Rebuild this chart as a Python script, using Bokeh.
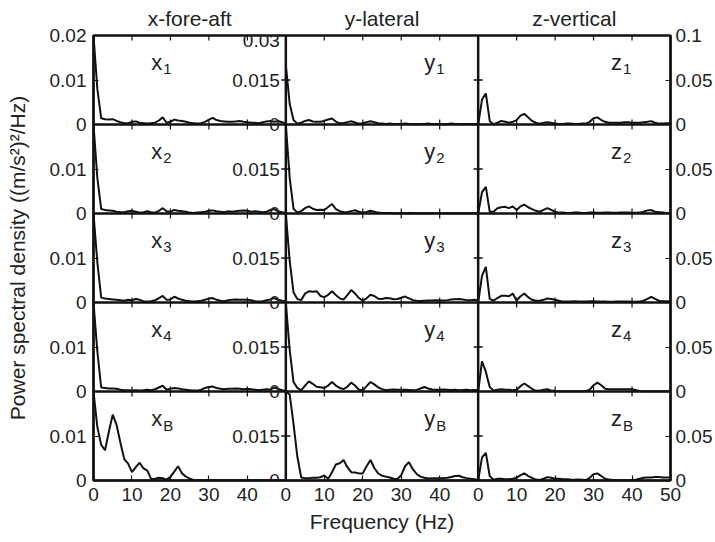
import numpy as np
from bokeh.plotting import figure
from bokeh.models import Range1d, LinearAxis, FixedTicker, Label, Span
from bokeh.embed import file_html
from bokeh.resources import INLINE

# ---------------- data ----------------
freq = list(range(0, 51))

x1 = [0.020, 0.008, 0.0014, 0.0012, 0.0011, 0.0012, 0.0008, 0.0005, 0.0003, 0.0003,
      0.0006, 0.0007, 0.0004, 0.0003, 0.0002, 0.0003, 0.0004, 0.0009, 0.0016, 0.0004,
      0.0006, 0.0011, 0.0009, 0.0008, 0.0006, 0.0004, 0.0003, 0.0002, 0.0003, 0.0006,
      0.0011, 0.0015, 0.0010, 0.0008, 0.0007, 0.0006, 0.0006, 0.0007, 0.0008, 0.0006,
      0.0005, 0.0004, 0.0004, 0.0003, 0.0005, 0.0007, 0.0008, 0.0006, 0.0008, 0.0005,
      0.0003]
x2 = [0.020, 0.008, 0.0010, 0.0008, 0.0007, 0.0006, 0.0004, 0.0003, 0.0003, 0.0005,
      0.0006, 0.0004, 0.0002, 0.0003, 0.0005, 0.0003, 0.0002, 0.0006, 0.0012, 0.0005,
      0.0004, 0.0008, 0.0006, 0.0005, 0.0004, 0.0002, 0.0001, 0.0002, 0.0003, 0.0004,
      0.0006, 0.0007, 0.0005, 0.0004, 0.0003, 0.0005, 0.0004, 0.0005, 0.0006, 0.0007,
      0.0006, 0.0004, 0.0005, 0.0004, 0.0003, 0.0004, 0.0008, 0.0010, 0.0005, 0.0003,
      0.0002]
x3 = [0.020, 0.009, 0.0011, 0.0009, 0.0008, 0.0007, 0.0006, 0.0005, 0.0004, 0.0006,
      0.0005, 0.0008, 0.0006, 0.0003, 0.0002, 0.0003, 0.0005, 0.0010, 0.0015, 0.0006,
      0.0007, 0.0013, 0.0009, 0.0006, 0.0004, 0.0003, 0.0002, 0.0003, 0.0004, 0.0006,
      0.0009, 0.0010, 0.0006, 0.0004, 0.0003, 0.0005, 0.0006, 0.0007, 0.0006, 0.0006,
      0.0006, 0.0005, 0.0003, 0.0002, 0.0003, 0.0005, 0.0007, 0.0010, 0.0006, 0.0004,
      0.0003]
x4 = [0.020, 0.009, 0.0009, 0.0008, 0.0007, 0.0007, 0.0006, 0.0004, 0.0003, 0.0003,
      0.0002, 0.0003, 0.0002, 0.0003, 0.0004, 0.0003, 0.0005, 0.0009, 0.0013, 0.0004,
      0.0006, 0.0008, 0.0007, 0.0005, 0.0004, 0.0003, 0.0002, 0.0002, 0.0004, 0.0008,
      0.0010, 0.0011, 0.0008, 0.0006, 0.0005, 0.0006, 0.0006, 0.0007, 0.0006, 0.0005,
      0.0006, 0.0005, 0.0004, 0.0003, 0.0004, 0.0005, 0.0004, 0.0009, 0.0006, 0.0003,
      0.0002]
xB = [0.020, 0.012, 0.0080, 0.0068, 0.0110, 0.0148, 0.0125, 0.0085, 0.0048, 0.0038,
      0.0019, 0.0030, 0.0040, 0.0027, 0.0022, 0.0003, 0.0004, 0.0006, 0.0005, 0.0002,
      0.0008, 0.0020, 0.0032, 0.0016, 0.0009, 0.0004, 0.0001, 0.00005, 0.00005, 0.00005,
      0.00005, 0.00005, 0.00005, 0.00005, 0.00005, 0.00005, 0.00005, 0.00005, 0.00005, 0.00005,
      0.00005, 0.00005, 0.00005, 0.00005, 0.00005, 0.00005, 0.00005, 0.00005, 0.00005, 0.00005,
      0.00005]

y1 = [0.020, 0.007, 0.0015, 0.0003, 0.0006, 0.0012, 0.0015, 0.0010, 0.0009, 0.0009,
      0.0012, 0.0017, 0.0020, 0.0010, 0.0004, 0.0005, 0.0008, 0.0011, 0.0007, 0.0003,
      0.0004, 0.0008, 0.0011, 0.0008, 0.0004, 0.0003, 0.0002, 0.0003, 0.0002, 0.0002,
      0.0002, 0.0003, 0.0002, 0.0002, 0.0001, 0.0002, 0.0002, 0.0003, 0.0002, 0.0002,
      0.0002, 0.0001, 0.0002, 0.0003, 0.0002, 0.0002, 0.0001, 0.0002, 0.0002, 0.0001,
      0.0001]
y2 = [0.030, 0.012, 0.0016, 0.0003, 0.0008, 0.0018, 0.0024, 0.0016, 0.0012, 0.0013,
      0.0012, 0.0022, 0.0032, 0.0015, 0.0008, 0.0004, 0.0005, 0.0008, 0.0011, 0.0006,
      0.0003, 0.0005, 0.0009, 0.0006, 0.0003, 0.0002, 0.0002, 0.0002, 0.0001, 0.0001,
      0.0001, 0.0001, 0.0002, 0.0001, 0.0001, 0.0001, 0.0001, 0.0001, 0.0001, 0.0001,
      0.0001, 0.0001, 0.0001, 0.0001, 0.0001, 0.0001, 0.0001, 0.0001, 0.0001, 0.0001,
      0.0001]
y3 = [0.030, 0.014, 0.0034, 0.0012, 0.0008, 0.0030, 0.0038, 0.0036, 0.0038, 0.0022,
      0.0018, 0.0026, 0.0038, 0.0025, 0.0014, 0.0010, 0.0025, 0.0042, 0.0030, 0.0015,
      0.0006, 0.0014, 0.0026, 0.0022, 0.0013, 0.0012, 0.0015, 0.0014, 0.0011, 0.0012,
      0.0016, 0.0020, 0.0014, 0.0008, 0.0006, 0.0005, 0.0006, 0.0007, 0.0007, 0.0008,
      0.0007, 0.0007, 0.0008, 0.0010, 0.0011, 0.0012, 0.0010, 0.0008, 0.0008, 0.0009,
      0.0008]
y4 = [0.030, 0.014, 0.0032, 0.0012, 0.0004, 0.0020, 0.0034, 0.0026, 0.0016, 0.0014,
      0.0012, 0.0020, 0.0032, 0.0020, 0.0012, 0.0008, 0.0016, 0.0030, 0.0020, 0.0006,
      0.0004, 0.0018, 0.0032, 0.0024, 0.0014, 0.0008, 0.0004, 0.0006, 0.0007, 0.0006,
      0.0006, 0.0006, 0.0005, 0.0004, 0.0005, 0.0010, 0.0015, 0.0010, 0.0007, 0.0006,
      0.0006, 0.0007, 0.0006, 0.0005, 0.0006, 0.0004, 0.0005, 0.0006, 0.0004, 0.0005,
      0.0004]
yB = [0.030, 0.029, 0.019, 0.008, 0.0010, 0.0008, 0.0008, 0.0009, 0.0009, 0.0011,
      0.0017, 0.0006, 0.0028, 0.0054, 0.0058, 0.0069, 0.0045, 0.0028, 0.0027, 0.0024,
      0.0024, 0.0048, 0.0069, 0.0042, 0.0024, 0.0016, 0.0013, 0.0010, 0.0006, 0.0005,
      0.0018, 0.0048, 0.0062, 0.0038, 0.0022, 0.0013, 0.0009, 0.0007, 0.0008, 0.0008,
      0.0008, 0.0008, 0.0009, 0.0012, 0.0015, 0.0016, 0.0011, 0.0008, 0.0006, 0.0004,
      0.0002]

z1 = [0.000, 0.028, 0.035, 0.004, 0.000, 0.002, 0.004, 0.003, 0.002, 0.003,
      0.005, 0.010, 0.012, 0.008, 0.004, 0.002, 0.001, 0.002, 0.0026, 0.002,
      0.001, 0.0005, 0.0005, 0.001, 0.001, 0.0005, 0.0005, 0.001, 0.001, 0.003,
      0.007, 0.008, 0.005, 0.003, 0.002, 0.002, 0.002, 0.002, 0.0025, 0.0025,
      0.002, 0.002, 0.002, 0.0025, 0.003, 0.0038, 0.002, 0.001, 0.001, 0.0015,
      0.0015]
z2 = [0.000, 0.024, 0.030, 0.002, 0.002, 0.006, 0.007, 0.0075, 0.006, 0.008,
      0.004, 0.008, 0.010, 0.007, 0.005, 0.003, 0.002, 0.004, 0.006, 0.004,
      0.002, 0.001, 0.001, 0.0005, 0.0005, 0.001, 0.001, 0.0005, 0.0005, 0.001,
      0.001, 0.0008, 0.0008, 0.001, 0.001, 0.0008, 0.0008, 0.001, 0.0012, 0.001,
      0.0008, 0.0008, 0.001, 0.002, 0.0035, 0.0038, 0.002, 0.0015, 0.001, 0.0005,
      0.0003]
z3 = [0.000, 0.030, 0.040, 0.004, 0.002, 0.005, 0.0075, 0.0075, 0.007, 0.010,
      0.002, 0.007, 0.010, 0.006, 0.003, 0.002, 0.002, 0.003, 0.0045, 0.004,
      0.003, 0.002, 0.001, 0.001, 0.001, 0.0015, 0.001, 0.001, 0.001, 0.0015,
      0.0015, 0.001, 0.001, 0.001, 0.0008, 0.0008, 0.001, 0.001, 0.001, 0.001,
      0.0008, 0.0008, 0.001, 0.002, 0.004, 0.0064, 0.004, 0.002, 0.0015, 0.0015,
      0.0015]
z4 = [0.000, 0.034, 0.022, 0.005, 0.001, 0.002, 0.0026, 0.002, 0.002, 0.0015,
      0.002, 0.006, 0.009, 0.006, 0.003, 0.0008, 0.001, 0.002, 0.0025, 0.001,
      0.0005, 0.0003, 0.0003, 0.0003, 0.0003, 0.0003, 0.0003, 0.0003, 0.0003, 0.002,
      0.007, 0.010, 0.007, 0.003, 0.0025, 0.0025, 0.0025, 0.0025, 0.0025, 0.0025,
      0.0025, 0.0015, 0.0005, 0.0003, 0.0003, 0.0003, 0.0003, 0.0003, 0.0003, 0.0003,
      0.0003]
zB = [0.000, 0.026, 0.031, 0.005, 0.001, 0.002, 0.002, 0.0015, 0.0015, 0.002,
      0.003, 0.006, 0.008, 0.005, 0.003, 0.001, 0.0005, 0.002, 0.0038, 0.003,
      0.002, 0.002, 0.0015, 0.0015, 0.001, 0.0008, 0.001, 0.0008, 0.0005, 0.003,
      0.007, 0.008, 0.005, 0.002, 0.001, 0.0005, 0.0003, 0.0002, 0.0002, 0.0002,
      0.0003, 0.0008, 0.002, 0.003, 0.0035, 0.0035, 0.004, 0.0038, 0.0035, 0.0034,
      0.0034]

col_titles = ["x-fore-aft", "y-lateral", "z-vertical"]
col_letters = ["x", "y", "z"]
row_subs = ["1", "2", "3", "4", "B"]
col_ymax = [0.02, 0.03, 0.1]
col_ticks = [[0, 0.01], [0, 0.015], [0, 0.05]]
col_tick_labels = [["0", "0.01"], ["0", "0.015"], ["0", "0.05"]]
col_top_labels = ["0.02", "0.03", "0.1"]
x_ticks = [0, 10, 20, 30, 40, 50]
x_tick_labels = ["0", "10", "20", "30", "40", "50"]
series = [[x1, x2, x3, x4, xB], [y1, y2, y3, y4, yB], [z1, z2, z3, z4, zB]]
x_label = "Frequency (Hz)"
y_label = "Power spectral density ((m/s\u00b2)\u00b2/Hz)"

# ---------------- layout / style ----------------
FONT = "Liberation Sans"
INK = "#111111"
TXT = "#222222"
XMAX = x_ticks[-1]
NC = len(col_titles)
NR = len(row_subs)
label_x = [15, 36, 34.5]

p = figure(width=715, height=542, output_backend="svg", toolbar_location=None,
           x_range=Range1d(0, NC * XMAX), y_range=Range1d(0, NR),
           min_border_left=93, min_border_right=45, min_border_top=35, min_border_bottom=62)
p.background_fill_color = "white"
p.border_fill_color = "white"
p.outline_line_color = INK
p.outline_line_width = 2.5
p.xgrid.visible = False
p.ygrid.visible = False

for c in range(NC):
    p.extra_x_ranges[f"c{c}"] = Range1d(-c * XMAX, (NC - c) * XMAX)
    ym = col_ymax[c]
    for r in range(NR):
        k = NR - 1 - r
        p.extra_y_ranges[f"r{c}{r}"] = Range1d(-k * ym, (NR - k) * ym)


def style_axis(ax):
    ax.major_tick_in = 5
    ax.major_tick_out = 0
    ax.minor_tick_line_color = None
    ax.axis_line_color = INK
    ax.axis_line_width = 2
    ax.major_tick_line_color = INK
    ax.major_tick_line_width = 1.2
    ax.major_label_text_font = FONT
    ax.major_label_text_font_size = "19px"
    ax.major_label_text_color = TXT
    ax.axis_label_text_font = FONT
    ax.axis_label_text_font_size = "21px"
    ax.axis_label_text_font_style = "normal"
    ax.axis_label_text_color = TXT


def row_axis_ticks(c):
    ticks, labels = [], {}
    ym = col_ymax[c]
    for r in range(NR):
        k = NR - 1 - r
        vals = list(col_ticks[c])
        labs = list(col_tick_labels[c])
        if r == 0:
            vals.append(ym)
            labs.append(col_top_labels[c])
        for v, lab in zip(vals, labs):
            pos = round(k + v / ym, 9)
            if pos not in labels:
                ticks.append(pos)
                labels[pos] = lab
    return ticks, labels


# left axis (x column) with the y title
lt, ll = row_axis_ticks(0)
yl = p.yaxis[0]
yl.ticker = FixedTicker(ticks=lt)
yl.major_label_overrides = ll
yl.major_label_standoff = 7
style_axis(yl)
yl.axis_label = y_label
yl.axis_label_standoff = 18

# right axis (z column)
rt, rl = row_axis_ticks(2)
yr = LinearAxis(ticker=FixedTicker(ticks=rt), major_label_overrides=rl)
style_axis(yr)
yr.major_label_standoff = 5
p.add_layout(yr, "right")

# bottom axis with the x title
bt, bl = [], {}
for c in range(NC):
    for t, lab in zip(x_ticks, x_tick_labels):
        if c < NC - 1 and t == XMAX:
            continue
        pos = c * XMAX + t
        bt.append(pos)
        bl[pos] = lab
xb = p.xaxis[0]
xb.ticker = FixedTicker(ticks=bt)
xb.major_label_overrides = bl
style_axis(xb)
xb.major_label_standoff = 7
xb.axis_label = x_label
xb.axis_label_standoff = 6

# top axis carrying the column titles
tt, tl = [], {}
for c in range(NC):
    pos = c * XMAX + XMAX / 2
    tt.append(pos)
    tl[pos] = col_titles[c]
xt = LinearAxis(ticker=FixedTicker(ticks=tt), major_label_overrides=tl)
style_axis(xt)
xt.major_tick_in = 0
xt.major_tick_out = 0
xt.major_tick_line_color = None
xt.axis_line_color = None
xt.major_label_text_font_size = "21px"
xt.major_label_standoff = 6
p.add_layout(xt, "above")

# curves
for c in range(NC):
    for r in range(NR):
        p.line(freq, series[c][r], x_range_name=f"c{c}", y_range_name=f"r{c}{r}",
               line_color=INK, line_width=2)

# inward tick marks on borders not covered by axes
inner = [t for t in x_ticks if 0 < t < XMAX]
for c in range(NC):
    ym = col_ymax[c]
    mids = [v for v in col_ticks[c] if 0 < v < ym]
    for r in range(NR):
        if c > 0:
            p.scatter([0] * len(mids), mids, marker="dash", size=9, line_color=INK,
                      line_width=1.2, x_range_name=f"c{c}", y_range_name=f"r{c}{r}")
        if c < NC - 1:
            p.scatter([XMAX] * len(mids), mids, marker="dash", size=9, line_color=INK,
                      line_width=1.2, x_range_name=f"c{c}", y_range_name=f"r{c}{r}")
        if r < NR - 1:
            p.scatter(inner, [0] * len(inner), marker="dash", angle=np.pi / 2, size=10,
                      line_color=INK, line_width=1.2,
                      x_range_name=f"c{c}", y_range_name=f"r{c}{r}")
        if r == 0:
            p.scatter(inner, [ym] * len(inner), marker="dash", angle=np.pi / 2, size=10,
                      line_color=INK, line_width=1.2,
                      x_range_name=f"c{c}", y_range_name=f"r{c}{r}")

# internal panel borders
for k in range(1, NR):
    p.add_layout(Span(location=k, dimension="width", line_color=INK, line_width=2.5))
for c in range(1, NC):
    p.add_layout(Span(location=c * XMAX, dimension="height", line_color=INK, line_width=2.5))

# middle column y tick labels (drawn left of its border)
for r in range(NR):
    vals = list(col_ticks[1])
    labs = list(col_tick_labels[1])
    if r == 0:
        vals.append(col_ymax[1])
        labs.append(col_top_labels[1])
    for v, lab in zip(vals, labs):
        top = (v == col_ymax[1])
        p.add_layout(Label(x=0, y=v, x_range_name="c1", y_range_name=f"r1{r}", text=lab,
                           text_align="right", text_baseline="middle", x_offset=-6,
                           y_offset=-5 if top else 0, level="overlay",
                           text_font=FONT, text_font_size="19px", text_color=TXT))

# panel labels with subscripts
for c in range(NC):
    ym = col_ymax[c]
    for r in range(NR):
        p.add_layout(Label(x=label_x[c], y=0.7 * ym, x_range_name=f"c{c}",
                           y_range_name=f"r{c}{r}", text=col_letters[c],
                           text_baseline="alphabetic", text_font=FONT,
                           text_font_size="22px", text_color=TXT))
        p.add_layout(Label(x=label_x[c], y=0.7 * ym, x_range_name=f"c{c}",
                           y_range_name=f"r{c}{r}", text=row_subs[r],
                           text_baseline="alphabetic", x_offset=12, y_offset=-7,
                           text_font=FONT, text_font_size="15px", text_color=TXT))

open("out.html", "w").write(file_html(p, INLINE))
